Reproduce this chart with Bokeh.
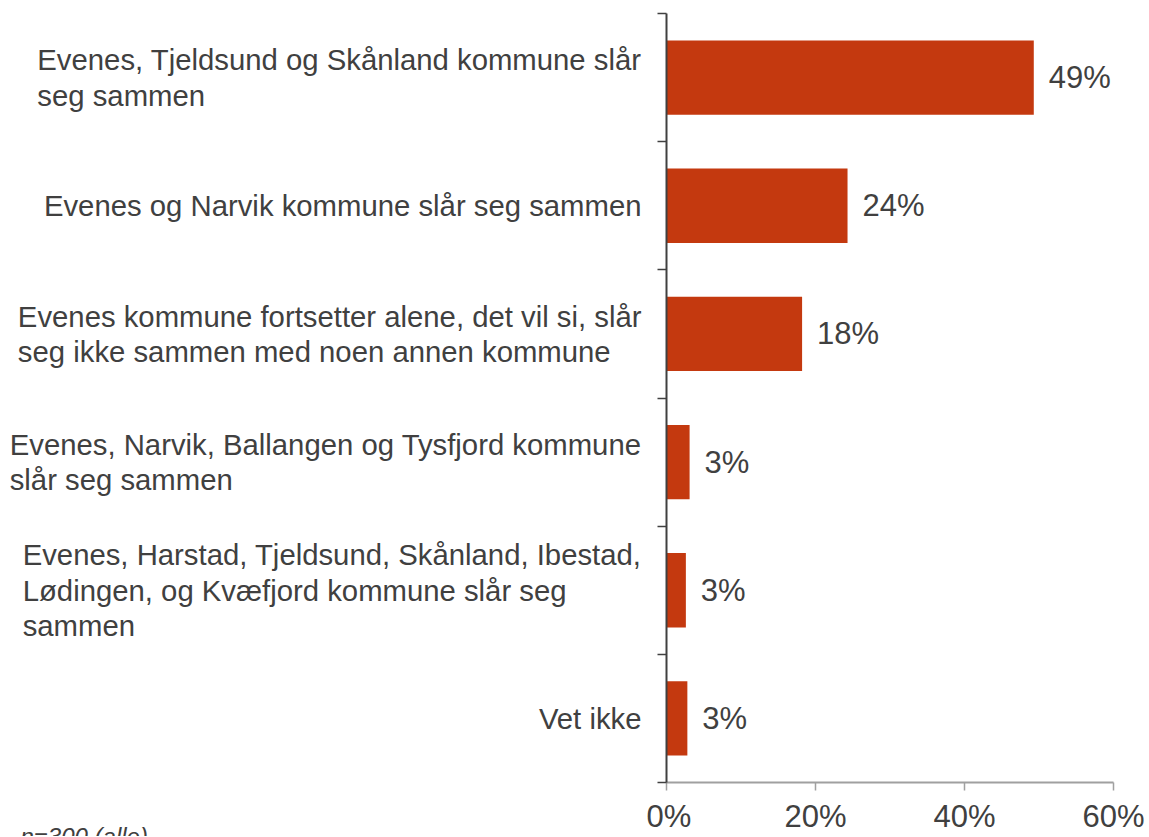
from bokeh.plotting import figure
from bokeh.layouts import row
from bokeh.models import Range1d, FixedTicker, PrintfTickFormatter
from bokeh.core.properties import value
from bokeh.embed import file_html
from bokeh.resources import INLINE

categories = [
    "Evenes, Tjeldsund og Skånland kommune slår\nseg sammen",
    "Evenes og Narvik kommune slår seg sammen",
    "Evenes kommune fortsetter alene, det vil si, slår\nseg ikke sammen med noen annen kommune",
    "Evenes, Narvik, Ballangen og Tysfjord kommune\nslår seg sammen",
    "Evenes, Harstad, Tjeldsund, Skånland, Ibestad,\nLødingen, og Kvæfjord kommune slår seg\nsammen",
    "Vet ikke",
]
values = [49.3, 24.3, 18.2, 3.1, 2.6, 2.8]
value_labels = ["49%", "24%", "18%", "3%", "3%", "3%"]
x_ticks = [0, 20, 40, 60]
footnote = "n=300 (alle)"

FONT = "Liberation Sans"
TXT = "#404040"
BAR = "#C4390F"

n = len(categories)
ypos = [n - i - 0.5 for i in range(n)]

# layout (pixels)
H = 836
W_LEFT = 646
W_MAIN = 503
TOP = 13
BOTTOM = 54
FRAME_H = H - TOP - BOTTOM
k = n / FRAME_H  # data units per pixel on y

# ---- main chart ----
p = figure(width=W_MAIN, height=H, x_range=Range1d(0, 60), y_range=Range1d(0, n),
           output_backend="svg", toolbar_location=None, frame_align=False,
           min_border_left=20, min_border_right=36, min_border_top=TOP, min_border_bottom=BOTTOM)
p.outline_line_color = None
p.xgrid.grid_line_color = None
p.ygrid.grid_line_color = None

p.hbar(y=ypos, left=0, right=values, height=0.58, fill_color=BAR, line_color=None)
p.text(x=values, y=ypos, text=value_labels, x_offset=15, text_align="left",
       text_baseline="middle", text_font=value(FONT), text_font_size="31px", text_color=TXT)

p.yaxis.ticker = FixedTicker(ticks=[], minor_ticks=list(range(n + 1)))
p.yaxis.major_tick_line_color = None
p.yaxis.minor_tick_out = 9
p.yaxis.minor_tick_in = 0
p.yaxis.minor_tick_line_color = "#404040"
p.yaxis.minor_tick_line_width = 1.5
p.yaxis.axis_line_color = "#404040"
p.yaxis.axis_line_width = 2

p.xaxis.ticker = FixedTicker(ticks=x_ticks)
p.xaxis.formatter = PrintfTickFormatter(format="%d%%")
p.xaxis.major_label_text_font = FONT
p.xaxis.major_label_text_font_size = "31px"
p.xaxis.major_label_text_color = TXT
p.xaxis.major_label_standoff = 8
p.xaxis.major_tick_out = 8
p.xaxis.major_tick_in = 0
p.xaxis.minor_tick_line_color = None
p.xaxis.axis_line_color = "#A0A0A0"
p.xaxis.axis_line_width = 2
p.xaxis.major_tick_line_color = "#A0A0A0"
p.xaxis.major_tick_line_width = 1.5

# ---- category label panel (same vertical mapping as the chart) ----
lab = figure(width=W_LEFT, height=H, x_range=Range1d(0, W_LEFT),
             y_range=Range1d(-BOTTOM * k, n + TOP * k),
             output_backend="svg", toolbar_location=None, frame_align=False,
             x_axis_location=None, y_axis_location=None, min_border=0)
lab.outline_line_color = None
lab.xgrid.grid_line_color = None
lab.ygrid.grid_line_color = None

lab.text(x=[W_LEFT - 5] * n, y=ypos, text=categories, anchor="center_right",
         text_align="left", text_baseline="middle", text_font=value(FONT),
         text_font_size="29.3px", text_color=TXT, text_line_height=1.07)
lab.text(x=[20], y=[0], y_offset=40, text=[footnote], text_align="left",
         text_baseline="top", text_font=value(FONT), text_font_style="italic",
         text_font_size="24px", text_color=TXT)

layout = row(lab, p, spacing=0)
open("out.html", "w").write(file_html(layout, INLINE))
